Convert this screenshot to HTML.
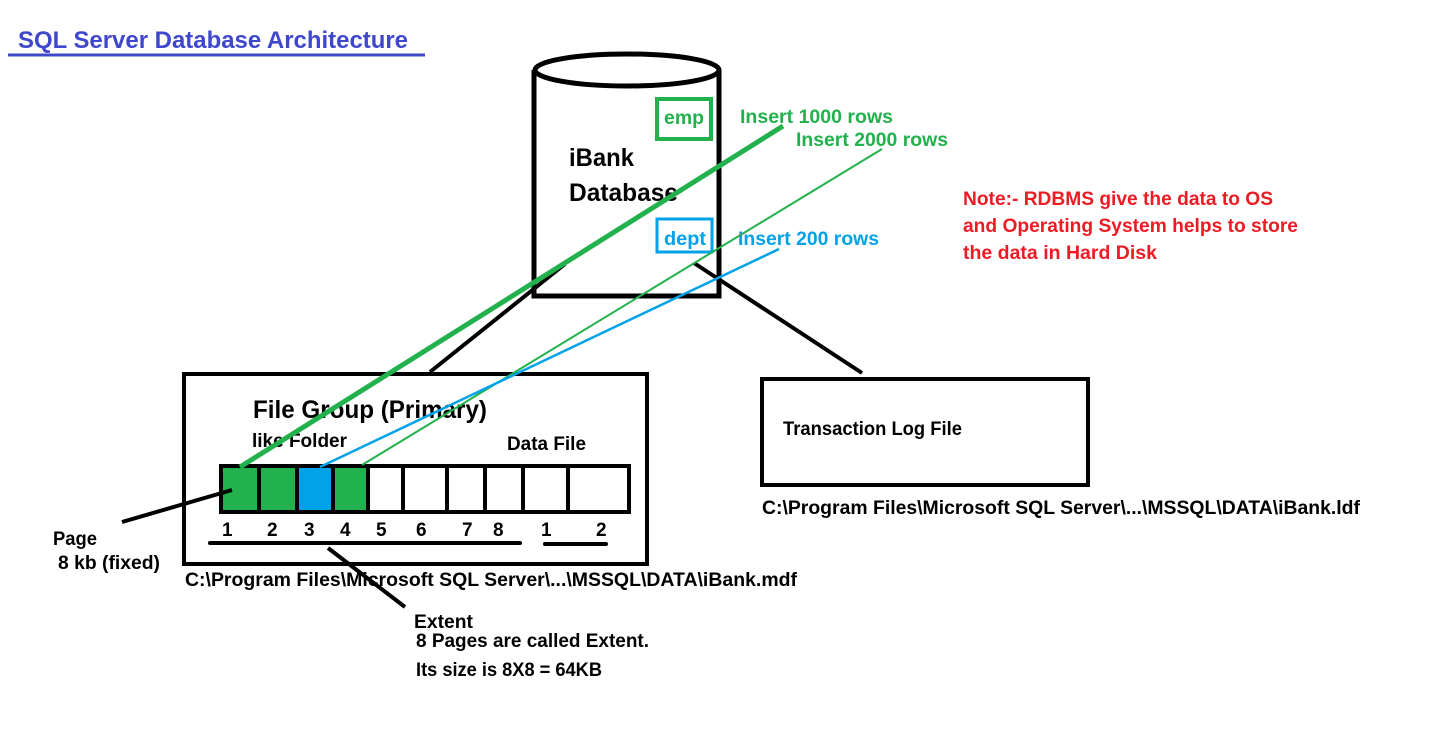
<!DOCTYPE html>
<html><head><meta charset="utf-8"><style>
html,body{margin:0;padding:0;background:#fff;}
svg{display:block;}
text{font-family:"Liberation Sans",sans-serif;font-weight:bold;font-size:19px;}
</style></head><body>
<svg width="1431" height="739" viewBox="0 0 1431 739" xmlns="http://www.w3.org/2000/svg">
<rect width="1431" height="739" fill="#fff"/>
<text x="18" y="48" fill="#3f48cc" style="font-size:24px" textLength="390" lengthAdjust="spacingAndGlyphs">SQL Server Database Architecture</text>
<line x1="8" y1="55" x2="425" y2="55" stroke="#3f48cc" stroke-width="3"/>

<path d="M534 70 L534 296 L719 296 L719 70" fill="none" stroke="#000" stroke-width="5"/>
<ellipse cx="627" cy="70" rx="92" ry="16" fill="#fff" stroke="#000" stroke-width="5"/>
<rect x="657" y="99" width="54" height="40" fill="none" stroke="#22b14c" stroke-width="4"/>
<text x="664" y="124" fill="#22b14c" textLength="40" lengthAdjust="spacingAndGlyphs">emp</text>
<rect x="657" y="219" width="55" height="33" fill="none" stroke="#00a2e8" stroke-width="3"/>
<text x="664" y="245" fill="#00a2e8" textLength="42" lengthAdjust="spacingAndGlyphs">dept</text>
<text x="569" y="166" style="font-size:25px" textLength="65" lengthAdjust="spacingAndGlyphs">iBank</text>
<text x="569" y="201" style="font-size:25px" textLength="109" lengthAdjust="spacingAndGlyphs">Database</text>

<text x="740" y="123" fill="#22b14c" textLength="153" lengthAdjust="spacingAndGlyphs">Insert 1000 rows</text>
<text x="796" y="146" fill="#22b14c" textLength="152" lengthAdjust="spacingAndGlyphs">Insert 2000 rows</text>
<text x="738" y="245" fill="#00a2e8" textLength="141" lengthAdjust="spacingAndGlyphs">Insert 200 rows</text>

<text x="963" y="205" fill="#ed1c24" textLength="310" lengthAdjust="spacingAndGlyphs">Note:- RDBMS give the data to OS</text>
<text x="963" y="232" fill="#ed1c24" textLength="335" lengthAdjust="spacingAndGlyphs">and Operating System helps to store</text>
<text x="963" y="259" fill="#ed1c24" textLength="194" lengthAdjust="spacingAndGlyphs">the data in Hard Disk</text>

<line x1="565" y1="264" x2="430" y2="372" stroke="#000" stroke-width="4"/>
<line x1="694" y1="263" x2="862" y2="373" stroke="#000" stroke-width="4"/>

<rect x="184" y="374" width="463" height="190" fill="none" stroke="#000" stroke-width="4"/>
<text x="253" y="418" style="font-size:25px" textLength="234" lengthAdjust="spacingAndGlyphs">File Group (Primary)</text>
<text x="252" y="447" textLength="95" lengthAdjust="spacingAndGlyphs">like Folder</text>
<text x="507" y="450" textLength="79" lengthAdjust="spacingAndGlyphs">Data File</text>

<rect x="222" y="467" width="37" height="44" fill="#22b14c"/>
<rect x="260" y="467" width="37" height="44" fill="#22b14c"/>
<rect x="298" y="467" width="35" height="44" fill="#00a2e8"/>
<rect x="334" y="467" width="34" height="44" fill="#22b14c"/>
<rect x="221" y="466" width="408" height="46" fill="none" stroke="#000" stroke-width="4"/>
<g stroke="#000" stroke-width="4">
<line x1="259" y1="466" x2="259" y2="512"/>
<line x1="297" y1="466" x2="297" y2="512"/>
<line x1="333" y1="466" x2="333" y2="512"/>
<line x1="368" y1="466" x2="368" y2="512"/>
<line x1="403" y1="466" x2="403" y2="512"/>
<line x1="447" y1="466" x2="447" y2="512"/>
<line x1="485" y1="466" x2="485" y2="512"/>
<line x1="523" y1="466" x2="523" y2="512"/>
<line x1="568" y1="466" x2="568" y2="512"/>
</g>
<text x="222" y="536">1</text><text x="267" y="536">2</text><text x="304" y="536">3</text><text x="340" y="536">4</text>
<text x="376" y="536">5</text><text x="416" y="536">6</text><text x="462" y="536">7</text><text x="493" y="536">8</text>
<text x="541" y="536">1</text><text x="596" y="536">2</text>
<line x1="210" y1="543" x2="520" y2="543" stroke="#000" stroke-width="4" stroke-linecap="round"/>
<line x1="545" y1="544" x2="606" y2="544" stroke="#000" stroke-width="4" stroke-linecap="round"/>

<line x1="783" y1="126" x2="240" y2="467" stroke="#22b14c" stroke-width="5"/>
<line x1="882" y1="149" x2="362" y2="465" stroke="#22b14c" stroke-width="2"/>
<line x1="779" y1="249" x2="320" y2="467" stroke="#00a2e8" stroke-width="2.5"/>

<line x1="122" y1="522" x2="232" y2="490" stroke="#000" stroke-width="4"/>
<line x1="328" y1="548" x2="405" y2="607" stroke="#000" stroke-width="4"/>

<text x="53" y="545" textLength="44" lengthAdjust="spacingAndGlyphs">Page</text>
<text x="58" y="569" textLength="102" lengthAdjust="spacingAndGlyphs">8 kb (fixed)</text>
<text x="185" y="586" textLength="612" lengthAdjust="spacingAndGlyphs">C:\Program Files\Microsoft SQL Server\...\MSSQL\DATA\iBank.mdf</text>
<text x="414" y="628" textLength="59" lengthAdjust="spacingAndGlyphs">Extent</text>
<text x="416" y="647" textLength="233" lengthAdjust="spacingAndGlyphs">8 Pages are called Extent.</text>
<text x="416" y="676" textLength="186" lengthAdjust="spacingAndGlyphs">Its size is 8X8 = 64KB</text>

<rect x="762" y="379" width="326" height="106" fill="none" stroke="#000" stroke-width="4"/>
<text x="783" y="435" textLength="179" lengthAdjust="spacingAndGlyphs">Transaction Log File</text>
<text x="762" y="514" textLength="598" lengthAdjust="spacingAndGlyphs">C:\Program Files\Microsoft SQL Server\...\MSSQL\DATA\iBank.ldf</text>
</svg>
</body></html>
